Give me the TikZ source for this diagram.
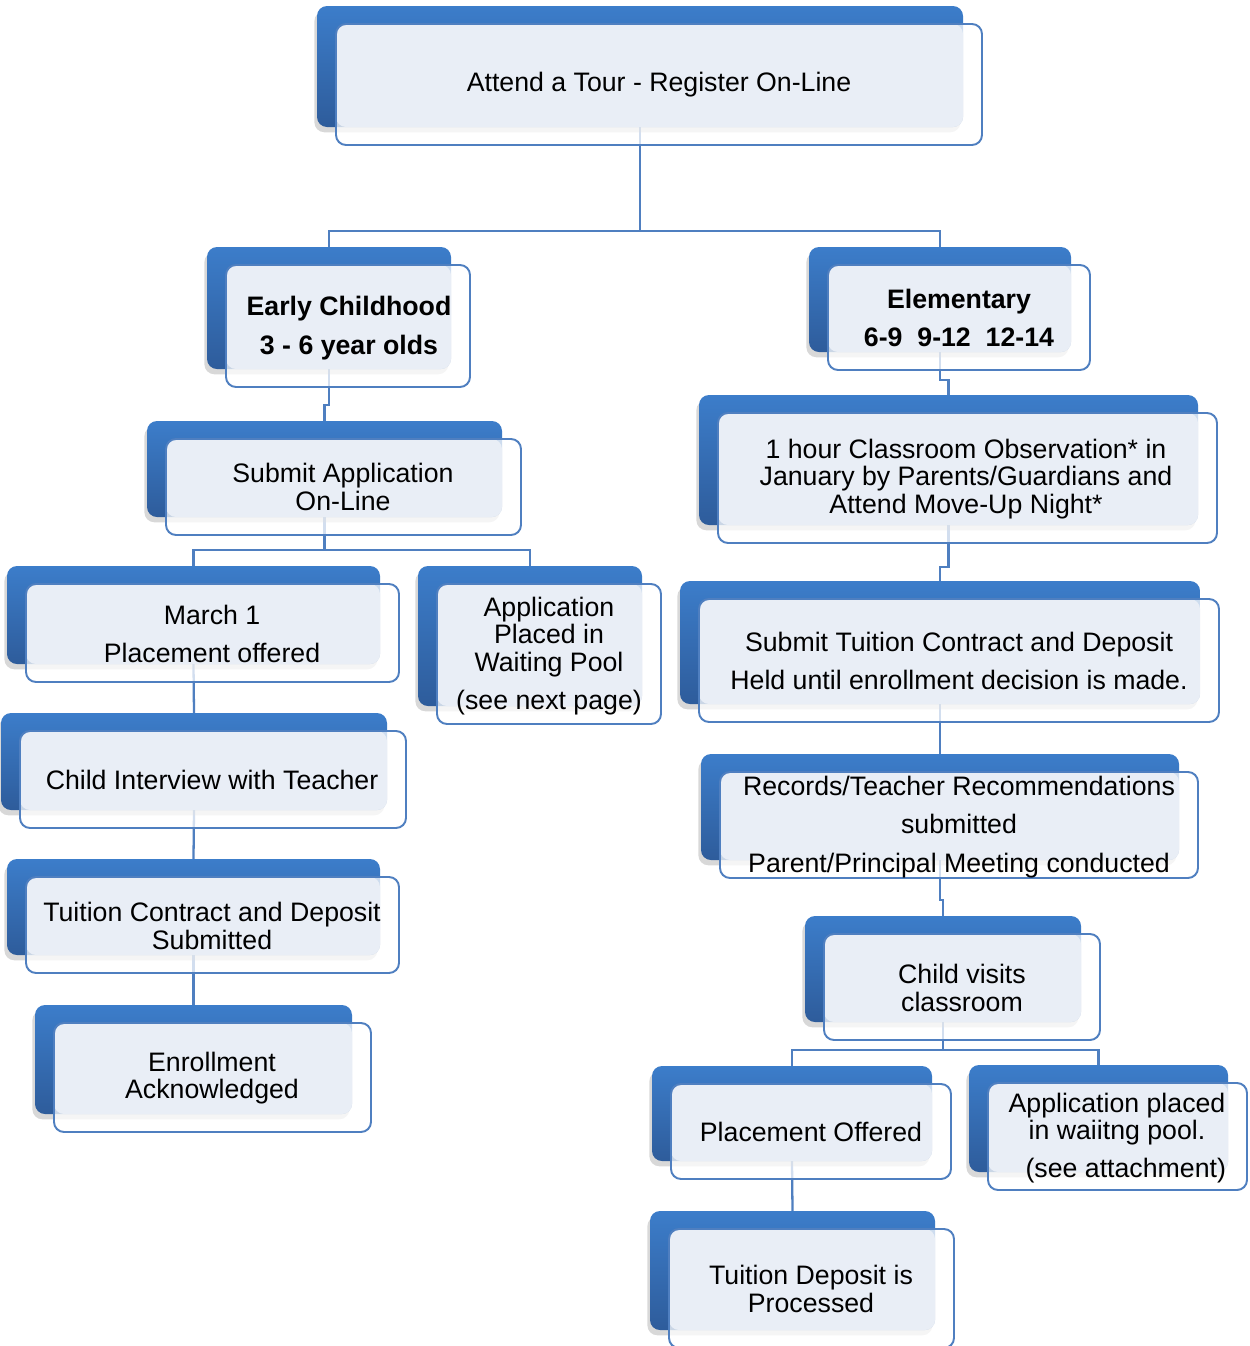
\documentclass[tikz,border=0pt]{standalone}
\usepackage{fontspec}
\setmainfont{Liberation Sans}
\usetikzlibrary{shadows,calc}
\definecolor{bluetop}{HTML}{3C7DCA}
\definecolor{bluebot}{HTML}{2E5C9B}
\definecolor{edgeblue}{HTML}{4F7FC0}
\definecolor{lightfill}{HTML}{E9EEF6}
\pgfdeclarelayer{bg}
\pgfsetlayers{bg,main}
\tikzset{
  backbox/.style={rectangle, rounded corners=0.2cm, inner sep=0pt, outer sep=0pt,
    top color=bluetop, bottom color=bluebot, draw=none,
    drop shadow={shadow xshift=-1.5pt, shadow yshift=-3pt, opacity=0.3}},
  frontbox/.style={rectangle, rounded corners=0.2cm, inner sep=0pt, outer sep=0pt,
    draw=edgeblue, line width=1.1pt},
  lfill/.style={fill=lightfill, rounded corners=0.2cm},
  wfill/.style={fill=white, fill opacity=0.75, rounded corners=0.2cm},
  conn/.style={draw=edgeblue, line width=1.3pt},
  txt/.style={align=center, inner sep=0pt, font=\fontsize{15.2}{15.6}\selectfont, text=black},
  btxt/.style={txt, font=\fontsize{15.2}{15.6}\selectfont\bfseries},
}
% name, bx1, by1, bx2, by2
\newcommand\smbox[5]{%
  \node[backbox, anchor=north west, minimum width={(#4-#2)*0.02cm}, minimum height={(#5-#3)*0.02cm}] (#1B) at (#2,#3) {};
  \fill[wfill] (#2+19,#3+18) rectangle (#4+19,#5+18);
  \fill[lfill] (#2+19,#3+18) rectangle (#4,#5);
  \node[frontbox, anchor=north west, minimum width={(#4-#2)*0.02cm}, minimum height={(#5-#3)*0.02cm}] (#1) at (#2+19,#3+18) {};
}
\begin{document}
\begin{tikzpicture}[x=0.02cm, y=-0.02cm]
\useasboundingbox (0,0) rectangle (1249,1346);

\smbox{top}{317}{6}{963}{127}
\smbox{ec}{207}{247}{451}{369}
\smbox{el}{809}{247}{1071}{352}
\smbox{sa}{147}{421}{502}{517}
\smbox{mar}{7}{566}{380}{664}
\smbox{wp}{418}{566}{642}{706}
\smbox{ci}{1}{713}{387}{810}
\smbox{tc}{7}{859}{380}{955}
\smbox{en}{35}{1005}{352}{1114}
\smbox{obs}{699}{395}{1198}{525}
\smbox{st}{680}{581}{1200}{704}
\smbox{rec}{701}{754}{1179}{860}
\smbox{cv}{805}{916}{1081}{1022}
\smbox{po}{652}{1066}{932}{1161}
\smbox{wpb}{969}{1065}{1228}{1172}
\smbox{td}{650}{1211}{935}{1330}

\begin{pgfonlayer}{bg}
\fill[white] (0,0) rectangle (1249,1346);
\draw[conn] (topB.south) -- ++(0,104) coordinate (j1);
\draw[conn] (j1) -| (ecB.north);
\draw[conn] (j1) -| (elB.north);
\draw[conn] (ecB.south) -- ++(0,36) -| (saB.north);
\draw[conn] (saB.south) -- ++(0,33) coordinate (j2);
\draw[conn] (j2) -| (marB.north);
\draw[conn] (j2) -| (wpB.north);
\draw[conn] (marB.south) -- (ciB.north);
\draw[conn] (ciB.south) -- (tcB.north);
\draw[conn] (tcB.south) -- (enB.north);
\draw[conn] (elB.south) -- ++(0,28) -| (obsB.north);
\draw[conn] (obsB.south) -- ++(0,42) -| (stB.north);
\draw[conn] (stB.south) -- (recB.north);
\draw[conn] (recB.south) -- ++(0,40) -| (cvB.north);
\draw[conn] (cvB.south) -- ++(0,28) coordinate (j3);
\draw[conn] (j3) -| (poB.north);
\draw[conn] (j3) -| (wpbB.north);
\draw[conn] (poB.south) -- (tdB.north);
\end{pgfonlayer}

\node[txt] (topT) at (659,85) {Attend a Tour - Register On-Line};
\node[btxt] (ecT) at (349,328) {Early Childhood\\[6.5pt]3 - 6 year olds};
\node[btxt] (elT) at (959,318) {Elementary\\[6pt]6-9\ \ 9-12\ \ 12-14};
\node[txt] (saT) at (343,487) {Submit Application\\On-Line};
\node[txt] (marT) at (212,634) {March 1\\[6.5pt]Placement offered};
\node[txt] (wpT) at (549,656) {Application\\Placed in\\Waiting Pool\\[6pt](see next page)};
\node[txt] (ciT) at (212,780) {Child Interview with Teacher};
\node[txt] (tcT) at (212,926) {Tuition Contract and Deposit\\Submitted};
\node[txt] (enT) at (212,1078) {Enrollment\\Acknowledged};
\node[txt] (obsT) at (966,479) {1 hour Classroom Observation* in\\January by Parents/Guardians and\\Attend Move-Up Night*};
\node[txt] (stT) at (959,661) {Submit Tuition Contract and Deposit\\[6pt]Held until enrollment decision is made.};
\node[txt] (recT) at (959,827) {Records/Teacher Recommendations\\[6pt]submitted\\[6.5pt]Parent/Principal Meeting conducted};
\node[txt] (cvT) at (962,988) {Child visits\\classroom};
\node[txt] (poT) at (811,1132) {Placement Offered};
\node[txt] (wpbT) at (1117,1138) {Application placed\\in waiitng pool.\\[6pt]\hspace*{10pt}(see attachment)};
\node[txt] (tdT) at (811,1289) {Tuition Deposit is\\Processed};
\end{tikzpicture}
\end{document}
